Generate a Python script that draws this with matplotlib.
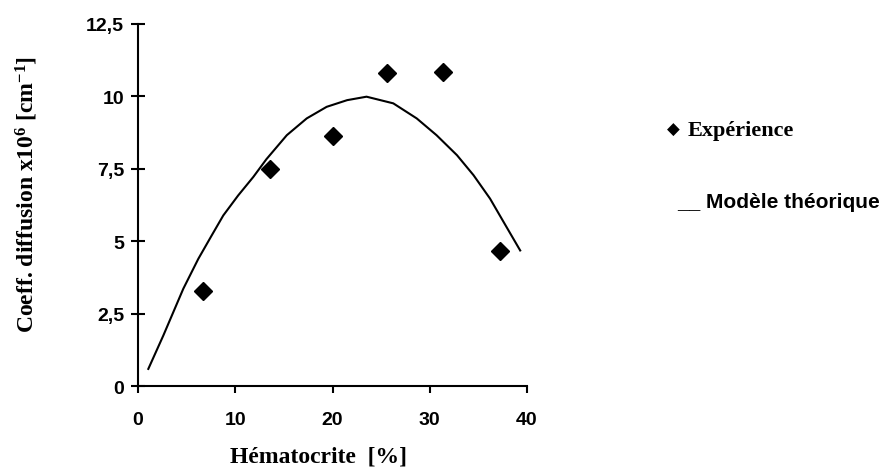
import matplotlib
matplotlib.use("Agg")
import matplotlib.pyplot as plt

# experimental points
exp_x = [6.7, 13.6, 20.1, 25.6, 31.4, 37.2]
exp_y = [3.28, 7.5, 8.63, 10.82, 10.83, 4.67]

# theoretical model curve
model_x = [1.06, 2.6, 4.66, 6.2, 7.58, 8.77, 10.3, 11.86, 13.2, 15.3, 17.35,
           19.4, 21.5, 23.5, 26.25, 28.66, 30.7, 32.8, 34.5, 36.2, 37.6, 39.3]
model_y = [0.59, 1.74, 3.36, 4.39, 5.2, 5.89, 6.58, 7.22, 7.83, 8.66, 9.24,
           9.64, 9.87, 9.99, 9.76, 9.24, 8.66, 7.97, 7.28, 6.47, 5.66, 4.68]

x_ticks = [0, 10, 20, 30, 40]
y_ticks = [0, 2.5, 5, 7.5, 10, 12.5]
y_tick_labels = ["0", "2,5", "5", "7,5", "10", "12,5"]

sans = ["Liberation Sans", "DejaVu Sans"]
serif = ["Liberation Serif", "DejaVu Serif"]

plt.rcParams["mathtext.default"] = "regular"

fig = plt.figure(figsize=(8.84, 4.77), dpi=100)
ax = fig.add_axes([138 / 884, 1 - 387 / 477, (527 - 138) / 884, (387 - 25) / 477])

ax.plot(model_x, model_y, color="black", linewidth=1.5)
ax.plot(exp_x, exp_y, linestyle="none", marker="D", markersize=9,
        color="black")

ax.set_xlim(0, 40)
ax.set_ylim(0, 12.5)
ax.set_xticks(x_ticks)
ax.set_xticklabels([str(t) for t in x_ticks], fontfamily=sans,
                   fontweight="bold", fontsize=14)
ax.set_yticks(y_ticks)
ax.set_yticklabels(y_tick_labels, fontfamily=sans, fontweight="bold",
                   fontsize=14)
ax.tick_params(axis="y", direction="inout", length=10, width=1.5, pad=5)
ax.tick_params(axis="x", direction="out", length=5, width=1.5, pad=13)

for side in ("top", "right"):
    ax.spines[side].set_visible(False)
for side in ("left", "bottom"):
    ax.spines[side].set_linewidth(1.5)

fig.text(318 / 884, 1 - 457 / 477, "Hématocrite  [%]", fontfamily=serif,
         fontweight="bold", fontsize=17, ha="center", va="center")
fig.text(27 / 884, 1 - 194 / 477,
         r"Coeff. diffusion x10$^{6}$ [cm$^{-1}$]", fontfamily=serif,
         fontweight="bold", fontsize=17, rotation=90, ha="center",
         va="center")

# legend drawn as text
fig.text(667 / 884, 1 - 131 / 477, "◆", fontfamily=serif,
         fontsize=12, ha="left", va="center")
fig.text(688 / 884, 1 - 131 / 477, "Expérience", fontfamily=serif,
         fontweight="bold", fontsize=16, ha="left", va="center")
fig.text(677 / 884, 1 - 203 / 477, "__ Modèle théorique", fontfamily=sans,
         fontweight="bold", fontsize=15, ha="left", va="center")

fig.savefig("out.png", dpi=100)
